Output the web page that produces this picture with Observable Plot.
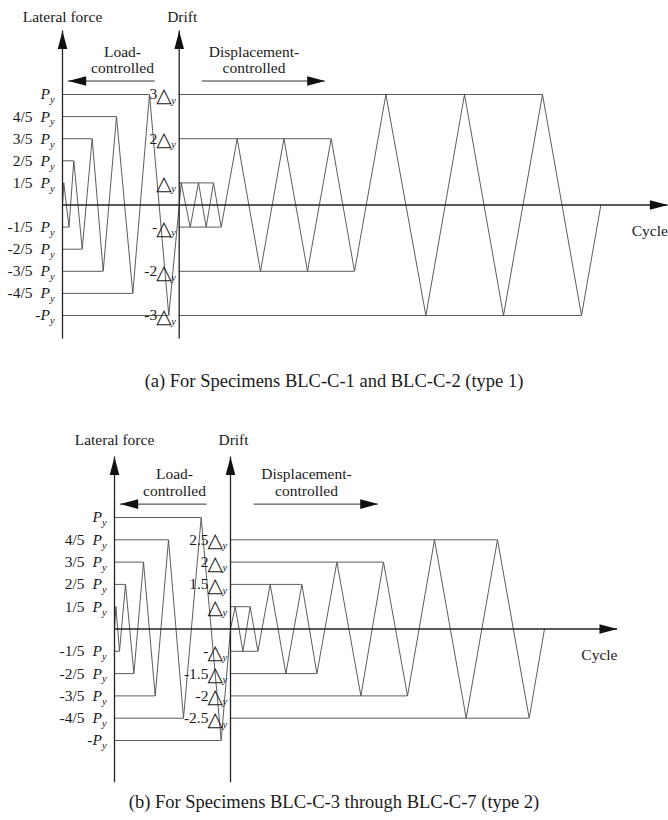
<!DOCTYPE html>
<html>
<head>
<meta charset="utf-8">
<script src="https://cdn.jsdelivr.net/npm/d3@7"></script>
<script src="https://cdn.jsdelivr.net/npm/@observablehq/plot@0.6"></script>
<style>
  body { margin: 0; background: #fff; }
  #wrap { width: 668px; }
  #wrap svg { display: block; }
  .cap { font-family: "Liberation Serif", "Times New Roman", serif; font-size: 18.5px; color: #1a1a1a; text-align: center; white-space: nowrap; }
</style>
</head>
<body>
<div id="wrap"></div>
<script>
// ---- Loading protocol, type 1 (BLC-C-1, BLC-C-2) ----
// load-controlled stage: time step and lateral force as a fraction of Py
const type1LoadTime  = [0, 1.3, 6.5, 11.3, 19.7, 29.7, 40.7, 54, 70.3, 87, 106.3, 116.7];
const type1LoadForce = [0, 0.2, -0.2, 0.4, -0.4, 0.6, -0.6, 0.8, -0.8, 1, -1, 0];
// displacement-controlled stage: time step and drift in multiples of Δy
const type1DispTime  = [116.7, 118.7, 127.7, 136, 143.7, 151, 158.7, 174.7, 198, 221.4, 245, 268.7, 292, 323.4, 363.4, 402, 441, 480, 519, 538.4];
const type1DispDrift = [0, 1, -1, 1, -1, 1, -1, 2, -2, 2, -2, 2, -2, 3, -3, 3, -3, 3, -3, 0];
const type1DriftTicks = [3, 2, 1, -1, -2, -3];

// ---- Loading protocol, type 2 (BLC-C-3 … BLC-C-7) ----
const type2LoadTime  = [0, 1.4, 5, 11, 19.4, 29, 40.7, 54, 69, 86.7, 106.7, 116];
const type2LoadForce = [0, 0.2, -0.2, 0.4, -0.4, 0.6, -0.6, 0.8, -0.8, 1, -1, 0];
const type2DispTime  = [116, 120.7, 128.4, 135.7, 143.4, 155.7, 171.4, 187.4, 202.4, 222.4, 246.4, 269, 293, 320, 351.7, 383, 414.7, 430];
const type2DispDrift = [0, 1, -1, 1, -1, 1.5, -1.5, 1.5, -1.5, 2, -2, 2, -2, 2.5, -2.5, 2.5, -2.5, 0];
const type2DriftTicks = [2.5, 2, 1.5, 1, -1, -1.5, -2, -2.5];

// force axis ticks (fractions of Py) and their printed coefficients
const forceTicks = [1, 0.8, 0.6, 0.4, 0.2, -0.2, -0.4, -0.6, -0.8, -1];
const forceTickLabels = ["", "4/5", "3/5", "2/5", "1/5", "-1/5", "-2/5", "-3/5", "-4/5", "-"];

const captions = [
  "(a) For Specimens BLC-C-1 and BLC-C-2 (type 1)",
  "(b) For Specimens BLC-C-3 through BLC-C-7 (type 2)"
];

// Every Py/5 force step and every drift amplitude share one row of the diagram.
const forceRow = f => f * 5;
const driftRow = d => d === 0 ? 0 : Math.sign(d) * (2 * Math.abs(d) - 1);

const serif = '"Liberation Serif", "Times New Roman", serif';
const ink = "#1a1a1a";
const wave = "#4a4a4a";

// filled arrowhead with its tip on the dot position, pointing along (ux, uy)
function arrowHead(ux, uy) {
  const L = 18, W = 4.8;
  return {
    draw(ctx) {
      ctx.moveTo(0, 0);
      ctx.lineTo(-ux * L - uy * W, -uy * L + ux * W);
      ctx.lineTo(-ux * L + uy * W, -uy * L - ux * W);
      ctx.closePath();
    }
  };
}
const headUp = arrowHead(0, -1), headLeft = arrowHead(-1, 0), headRight = arrowHead(1, 0);

// horizontal guide from an axis to the last peak reached at each level
function guides(points, x0) {
  return d3.rollups(points.filter(d => d.row !== 0), v => d3.max(v, d => d.t), d => d.row)
    .map(([row, t]) => ({row, x1: x0, x2: t}));
}

function protocol(p) {
  const load = p.loadTime.map((t, i) => ({t, row: forceRow(p.loadForce[i])}));
  const disp = p.dispTime.map((t, i) => ({t, row: driftRow(p.dispDrift[i])}));
  const t0 = p.dispTime[0]; // drift axis
  const ticks = forceTicks.map((f, i) => ({row: forceRow(f), label: forceTickLabels[i]}));
  const dticks = p.driftTicks.map(d => ({row: driftRow(d), label: d === 1 ? "" : d === -1 ? "-" : String(d)}));
  const axisStyle = {stroke: "#222", strokeWidth: 1.3};
  const guideStyle = {stroke: wave, strokeWidth: 0.9};
  const txt = {fontFamily: serif, fontSize: 15.5, fill: ink};
  const sub = {fontFamily: serif, fontSize: 10.5, fontStyle: "italic", fill: ink};

  return Plot.plot({
    width: 668,
    height: p.height,
    marginLeft: p.marginLeft,
    marginRight: 0,
    marginTop: p.marginTop,
    marginBottom: p.marginBottom,
    x: {domain: [0, p.xMax], axis: null},
    y: {domain: [-5, 5], axis: null},
    style: {background: "#fff", fontFamily: serif},
    marks: [
      Plot.ruleY(guides(load, 0), {y: "row", x1: "x1", x2: "x2", ...guideStyle}),
      Plot.ruleY(guides(disp, t0), {y: "row", x1: "x1", x2: "x2", ...guideStyle}),
      Plot.line(load, {x: "t", y: "row", stroke: wave, strokeWidth: 0.9}),
      Plot.line(disp, {x: "t", y: "row", stroke: wave, strokeWidth: 0.9}),

      // force and drift axes, cycle axis
      Plot.ruleX([0, t0], {x: d => d, y1: p.axisBottom, y2: p.axisTop, ...axisStyle}),
      Plot.ruleY([0], {y: 0, x1: 0, x2: p.cycleEnd, ...axisStyle}),
      Plot.dot([0, t0], {x: d => d, y: p.axisTop, symbol: headUp, fill: "#111", stroke: "none"}),
      Plot.dot([p.cycleEnd], {x: d => d, y: 0, symbol: headRight, fill: "#111", stroke: "none"}),

      // stage arrows
      Plot.ruleY([p.stageRow], {y: d => d, x1: p.loadArrow[0], x2: p.loadArrow[1], stroke: "#333", strokeWidth: 1}),
      Plot.ruleY([p.stageRow], {y: d => d, x1: p.dispArrow[0], x2: p.dispArrow[1], stroke: "#333", strokeWidth: 1}),
      Plot.dot([p.loadArrow[0]], {x: d => d, y: p.stageRow, symbol: headLeft, fill: "#111", stroke: "none"}),
      Plot.dot([p.dispArrow[1]], {x: d => d, y: p.stageRow, symbol: headRight, fill: "#111", stroke: "none"}),
      Plot.text([
        {x: p.loadLabelX, text: "Load-\ncontrolled"},
        {x: p.dispLabelX, text: "Displacement-\ncontrolled"}
      ], {x: "x", y: p.stageLabelRow, text: "text", lineHeight: p.lineHeight, ...txt}),

      // axis titles
      Plot.text(["Lateral force"], {x: 0, y: p.titleRow, text: d => d, ...txt}),
      Plot.text(["Drift"], {x: t0 + 3, y: p.titleRow, text: d => d, ...txt}),
      Plot.text(["Cycle"], {x: p.cycleEnd, y: p.cycleRow, text: d => d, textAnchor: "end", ...txt}),

      // force tick labels: coefficient, italic P, subscript y
      Plot.text(ticks.filter(d => d.label.length > 1), {x: 0, y: "row", text: "label", textAnchor: "end", dx: -30, ...txt}),
      Plot.text(ticks.filter(d => d.label === "-"), {x: 0, y: "row", text: "label", textAnchor: "end", dx: -22, ...txt}),
      Plot.text(ticks, {x: 0, y: "row", text: () => "P", textAnchor: "end", dx: -12.5, ...txt, fontStyle: "italic"}),
      Plot.text(ticks, {x: 0, y: "row", text: () => "y", textAnchor: "start", dx: -12.5, dy: 5.5, ...sub}),

      // drift tick labels: multiple, outlined Δ, subscript y
      Plot.text(dticks, {x: t0, y: "row", text: "label", textAnchor: "end", dx: -22, ...txt}),
      Plot.text(dticks, {x: t0, y: "row", text: () => "\u25B3", textAnchor: "end", dx: -7.5, dy: 1, fontFamily: "DejaVu Sans", fontSize: 20, fill: ink}),
      Plot.text(dticks, {x: t0, y: "row", text: () => "y", textAnchor: "start", dx: -8, dy: 6, ...sub})
    ]
  });
}

const wrap = document.getElementById("wrap");

wrap.append(protocol({
  loadTime: type1LoadTime, loadForce: type1LoadForce,
  dispTime: type1DispTime, dispDrift: type1DispDrift, driftTicks: type1DriftTicks,
  height: 365, marginLeft: 62, marginTop: 94, marginBottom: 50, xMax: 606,
  axisTop: 7.87, axisBottom: -6.06, cycleEnd: 605.4, cycleRow: -1.18,
  titleRow: 8.5, stageLabelRow: 6.57, lineHeight: 1.04, stageRow: 5.61,
  loadArrow: [5.7, 92.7], dispArrow: [139.7, 262.7], loadLabelX: 60, dispLabelX: 191.5
}));

const capA = document.createElement("div");
capA.className = "cap";
capA.style.height = capA.style.lineHeight = "32px";
capA.textContent = captions[0];
wrap.append(capA);

wrap.append(protocol({
  loadTime: type2LoadTime, loadForce: type2LoadForce,
  dispTime: type2DispTime, dispDrift: type2DispDrift, driftTicks: type2DriftTicks,
  height: 392, marginLeft: 114, marginTop: 120, marginBottom: 49, xMax: 554,
  axisTop: 7.71, axisBottom: -6.9, cycleEnd: 503, cycleRow: -1.17,
  titleRow: 8.48, stageLabelRow: 6.6, lineHeight: 1.14, stageRow: 5.6,
  loadArrow: [5.7, 92.7], dispArrow: [139.7, 263.7], loadLabelX: 60, dispLabelX: 192
}));

const capB = document.createElement("div");
capB.className = "cap";
capB.style.height = capB.style.lineHeight = "26px";
capB.textContent = captions[1];
wrap.append(capB);
</script>
</body>
</html>
